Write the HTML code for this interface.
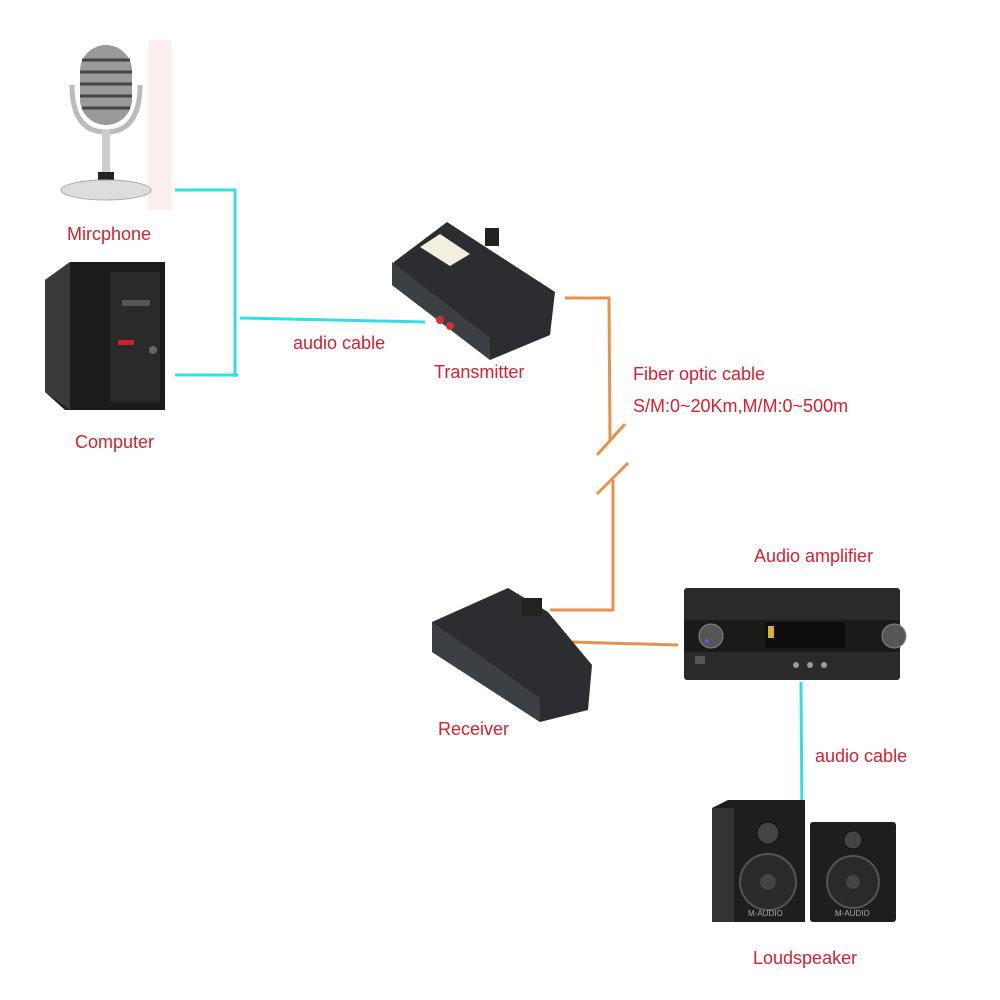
<!DOCTYPE html>
<html><head><meta charset="utf-8"><style>
html,body{margin:0;padding:0;background:#fff;}
svg{display:block}
text{font-family:"Liberation Sans",sans-serif;font-size:18px;fill:#d42030;}
</style></head><body>
<svg width="1000" height="1000" viewBox="0 0 1000 1000">
<!-- microphone -->
<rect x="148" y="40" width="24" height="170" fill="#fbeeee"/>
<rect x="80" y="45" width="52" height="80" rx="26" fill="#9a9a9a"/>
<g stroke="#444" stroke-width="3">
<line x1="82" y1="60" x2="130" y2="60"/><line x1="80" y1="72" x2="132" y2="72"/><line x1="80" y1="84" x2="132" y2="84"/><line x1="80" y1="96" x2="132" y2="96"/><line x1="82" y1="108" x2="130" y2="108"/></g>
<path d="M72 85 Q72 132 106 132 Q140 132 140 85" fill="none" stroke="#bbb" stroke-width="5"/>
<rect x="102" y="130" width="8" height="55" fill="#ccc"/>
<rect x="98" y="172" width="16" height="16" fill="#222"/>
<ellipse cx="106" cy="190" rx="45" ry="10" fill="#ddd" stroke="#aaa"/>
<!-- computer -->
<polygon points="45,280 70,262 165,262 165,410 65,410 45,392" fill="#1c1c1c"/>
<polygon points="45,280 70,262 70,410 45,392" fill="#3a3a3a"/>
<rect x="110" y="272" width="50" height="130" fill="#2a2a2a"/>
<rect x="122" y="300" width="28" height="6" fill="#555"/>
<rect x="118" y="340" width="16" height="5" fill="#c22"/>
<circle cx="153" cy="350" r="4" fill="#666"/>
<!-- cyan lines -->
<g stroke="#33dde6" stroke-width="3" fill="none">
<polyline points="175,190 235,190 235,377"/>
<line x1="175" y1="375" x2="238" y2="375"/>
<line x1="240" y1="318" x2="425" y2="322"/>
<line x1="801" y1="682" x2="802" y2="822"/>
</g>
<!-- orange lines -->
<g stroke="#e8914a" stroke-width="3" fill="none">
<polyline points="565,298 609,298 610,440"/>
<line x1="597" y1="455" x2="625" y2="424"/>
<line x1="597" y1="494" x2="628" y2="463"/>
<polyline points="613,480 613,610 550,610"/>
<line x1="570" y1="642" x2="678" y2="645"/>
</g>
<!-- transmitter -->
<polygon points="394,262 447,222 555,292 550,335 490,360 392,285" fill="#2b2d30"/>
<polygon points="392,262 392,285 490,360 490,338" fill="#3c3f44"/>
<polygon points="420,247 440,234 470,254 450,266" fill="#f4f0e0"/>
<rect x="485" y="228" width="14" height="18" fill="#222"/>
<circle cx="440" cy="320" r="4" fill="#c33"/><circle cx="450" cy="326" r="4" fill="#c33"/>
<!-- receiver -->
<polygon points="432,622 508,588 548,612 592,665 588,710 540,722 432,652" fill="#2b2d30"/>
<polygon points="432,622 432,652 540,722 540,698" fill="#3c3f44"/>
<rect x="522" y="598" width="20" height="18" fill="#222"/>
<!-- amplifier -->
<rect x="684" y="588" width="216" height="92" rx="3" fill="#2a2a2a"/>
<rect x="684" y="620" width="216" height="32" fill="#1a1a1a"/>
<rect x="765" y="622" width="80" height="26" fill="#0e0e0e"/>
<rect x="768" y="626" width="6" height="12" fill="#d8b030"/>
<circle cx="711" cy="636" r="12" fill="#555" stroke="#888"/>
<circle cx="894" cy="636" r="12" fill="#555" stroke="#888"/>
<circle cx="707" cy="641" r="2" fill="#46f"/>
<rect x="695" y="656" width="10" height="8" fill="#555"/>
<circle cx="796" cy="665" r="3" fill="#999"/><circle cx="810" cy="665" r="3" fill="#999"/><circle cx="824" cy="665" r="3" fill="#999"/>
<!-- speakers -->
<polygon points="712,808 728,800 805,800 805,922 712,922" fill="#1e1e1e"/>
<rect x="712" y="808" width="22" height="114" fill="#333"/>
<circle cx="768" cy="833" r="11" fill="#444" stroke="#111"/>
<circle cx="768" cy="882" r="28" fill="#2a2a2a" stroke="#555" stroke-width="2"/>
<circle cx="768" cy="882" r="8" fill="#444"/>
<text x="748" y="916" style="font-size:8px;fill:#aaa">M-AUDIO</text>
<rect x="810" y="822" width="86" height="100" rx="3" fill="#1e1e1e"/>
<circle cx="853" cy="840" r="9" fill="#444" stroke="#111"/>
<circle cx="853" cy="882" r="26" fill="#2a2a2a" stroke="#555" stroke-width="2"/>
<circle cx="853" cy="882" r="7" fill="#444"/>
<text x="835" y="916" style="font-size:8px;fill:#aaa">M-AUDIO</text>
<!-- labels -->
<text x="67" y="240">Mircphone</text>
<text x="75" y="448">Computer</text>
<text x="293" y="349">audio cable</text>
<text x="434" y="378">Transmitter</text>
<text x="633" y="380">Fiber optic cable</text>
<text x="633" y="412">S/M:0~20Km,M/M:0~500m</text>
<text x="754" y="562">Audio amplifier</text>
<text x="438" y="735">Receiver</text>
<text x="815" y="762">audio cable</text>
<text x="753" y="964">Loudspeaker</text>
</svg>
</body></html>
